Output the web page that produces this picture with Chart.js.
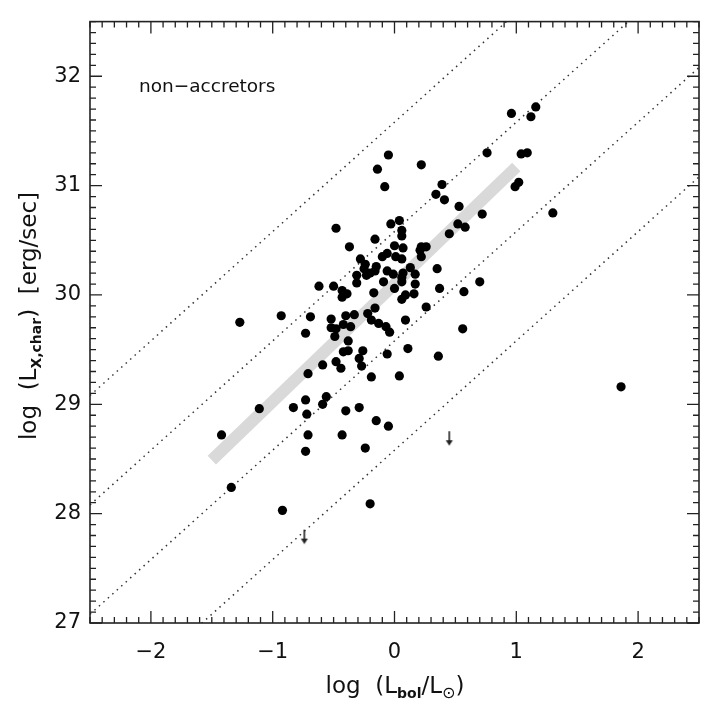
<!DOCTYPE html>
<html lang="en">
<head>
    <meta charset="UTF-8" />
    <script src="https://cdn.jsdelivr.net/npm/chart.js"></script>
    <title>Lx vs Lbol - non-accretors</title>
    <style>
        body { margin: 0; background: #fff; }
        #wrap { width: 712px; height: 707px; }
    </style>
</head>
<body>
    <div id="wrap"><canvas id="grafica" width="712" height="707"></canvas></div>

    <script>
        // log(Lbol/Lsun) and log(Lx,char) of the detected non-accretors
        const lbol = [0.96, 1.16, 1.12, -0.05, -0.14, 0.22, 0.76, 1.04, 1.09, -0.08,
            0.39, 0.34, 0.41, 1.02, 0.99, 0.53, 0.72, 1.30, -0.03, 0.04,
            0.06, 0.06, 0.52, 0.58, 0.45, -0.16, -0.37, 0.00, 0.07, 0.22,
            0.26, 0.21, -0.48, 0.22, -0.28, -0.24, -0.10, -0.06, 0.01, 0.06,
            -0.25, -0.15, -0.16, -0.31, -0.23, -0.20, -0.62, -0.50, -0.31, -0.43,
            -0.39, -0.43, -0.17, -0.16, -0.93, -0.69, -0.52, -0.40, -0.33, -0.22,
            -0.19, -0.13, -1.27, -0.52, -0.48, -0.42, -0.36, -0.73, -0.49, -0.38,
            -0.42, -0.38, -0.26, -0.29, -0.48, -0.44, -0.59, -0.27, -0.71, -0.19,
            -0.73, -0.56, 0.13, 0.35, -0.06, -0.01, 0.07, 0.06, 0.06, 0.17,
            -0.09, 0.17, 0.70, 0.00, 0.37, 0.57, 0.09, 0.06, 0.16, 0.26,
            -0.07, -0.04, 0.09, 0.56, 0.11, -0.06, 0.36, 0.04, -1.11, -1.42,
            -0.83, -0.72, -0.59, -0.40, -0.29, -0.15, -0.05, -0.71, -0.43, -0.73,
            -0.24, -1.34, -0.92, -0.20, 1.86];
        const lx = [31.66, 31.72, 31.63, 31.28, 31.15, 31.19, 31.30, 31.29, 31.30, 30.99,
            31.01, 30.92, 30.87, 31.03, 30.99, 30.81, 30.74, 30.75, 30.65, 30.68,
            30.59, 30.54, 30.65, 30.62, 30.56, 30.51, 30.44, 30.45, 30.43, 30.44,
            30.44, 30.41, 30.61, 30.35, 30.33, 30.28, 30.35, 30.38, 30.35, 30.33,
            30.24, 30.26, 30.22, 30.18, 30.18, 30.20, 30.08, 30.08, 30.11, 30.04,
            30.01, 29.98, 30.02, 29.88, 29.81, 29.80, 29.78, 29.81, 29.82, 29.83,
            29.77, 29.74, 29.75, 29.70, 29.69, 29.73, 29.71, 29.65, 29.62, 29.58,
            29.48, 29.49, 29.49, 29.42, 29.39, 29.33, 29.36, 29.35, 29.28, 29.25,
            29.04, 29.07, 30.25, 30.24, 30.22, 30.19, 30.20, 30.16, 30.12, 30.19,
            30.12, 30.10, 30.12, 30.06, 30.06, 30.03, 30.00, 29.96, 30.01, 29.89,
            29.71, 29.66, 29.77, 29.69, 29.51, 29.46, 29.44, 29.26, 28.96, 28.72,
            28.97, 28.91, 29.00, 28.94, 28.97, 28.85, 28.80, 28.72, 28.72, 28.57,
            28.60, 28.24, 28.03, 28.09, 29.16];

        // upper limits
        const limLbol = [0.45, -0.74];
        const limLx = [28.69, 27.79];

        // constant Lx/Lbol lines, log ratio
        const logLsun = 33.58;
        const ratios = [-2, -3, -4, -5];

        // grey fit line
        const fitLbol = [-1.5, 1.0];
        const fitLx = [28.49, 31.17];

        const xTicks = [-2, -1, 0, 1, 2];
        const yTicks = [27, 28, 29, 30, 31, 32];
        const xRange = [-2.5, 2.5];
        const yRange = [27, 32.5];

        const fuente = '"DejaVu Sans", sans-serif';

        // little down arrow for the upper limits
        function flecha() {
            const c = document.createElement('canvas');
            c.width = 10; c.height = 16;
            const g = c.getContext('2d');
            g.strokeStyle = '#222';
            g.fillStyle = '#222';
            g.lineWidth = 1.6;
            g.beginPath(); g.moveTo(5, 1); g.lineTo(5, 12); g.stroke();
            g.beginPath(); g.moveTo(1.5, 10); g.lineTo(8.5, 10); g.lineTo(5, 15.5); g.closePath(); g.fill();
            return c;
        }

        const puntos = lbol.map((v, i) => ({ x: v, y: lx[i] }));
        const limites = limLbol.map((v, i) => ({ x: v, y: limLx[i] }));

        const lineasRatio = ratios.map(r => ({
            type: 'line',
            data: xRange.map(x => ({ x: x, y: x + logLsun + r })),
            borderColor: '#333',
            borderWidth: 1.5,
            borderDash: [1.5, 4.5],
            pointRadius: 0,
            fill: false
        }));

        // rich text with subscripts
        function textoRico(ctx, partes, x, y) {
            let ancho = 0;
            partes.forEach(p => {
                ctx.font = (p.b ? 'bold ' : '') + p.s + 'px ' + fuente;
                p.w = ctx.measureText(p.t).width;
                ancho += p.w;
            });
            let cx = x - ancho / 2;
            partes.forEach(p => {
                ctx.font = (p.b ? 'bold ' : '') + p.s + 'px ' + fuente;
                ctx.fillText(p.t, cx, y + (p.dy || 0));
                cx += p.w;
            });
        }

        const marco = {
            id: 'marco',
            afterDraw(chart) {
                const { ctx, chartArea: a, scales } = chart;
                const sx = scales.x, sy = scales.y;
                ctx.save();
                ctx.strokeStyle = '#222';
                ctx.lineWidth = 1.6;
                ctx.strokeRect(a.left, a.top, a.right - a.left, a.bottom - a.top);

                ctx.lineWidth = 1.3;
                ctx.beginPath();
                for (let i = -25; i <= 25; i++) {
                    const px = sx.getPixelForValue(i / 10);
                    const len = (i % 10 === 0) ? 12 : 6;
                    ctx.moveTo(px, a.bottom); ctx.lineTo(px, a.bottom - len);
                    ctx.moveTo(px, a.top); ctx.lineTo(px, a.top + len);
                }
                for (let i = 270; i <= 325; i++) {
                    const py = sy.getPixelForValue(i / 10);
                    const len = (i % 10 === 0) ? 12 : 6;
                    ctx.moveTo(a.left, py); ctx.lineTo(a.left + len, py);
                    ctx.moveTo(a.right, py); ctx.lineTo(a.right - len, py);
                }
                ctx.stroke();

                ctx.fillStyle = '#111';
                ctx.textBaseline = 'alphabetic';
                ctx.textAlign = 'left';
                ctx.font = '18.5px ' + fuente;
                ctx.fillText('non\u2212accretors', 139, 92);

                textoRico(ctx, [
                    { t: 'log  (L', s: 23 },
                    { t: 'bol', s: 14, b: true, dy: 5 },
                    { t: '/L', s: 23 },
                    { t: '\u2299', s: 16, dy: 5 },
                    { t: ')', s: 23 }
                ], 395, 693);

                ctx.translate(36, 316);
                ctx.rotate(-Math.PI / 2);
                textoRico(ctx, [
                    { t: 'log  (L', s: 23 },
                    { t: 'X,char', s: 14, b: true, dy: 5 },
                    { t: ')  [erg/sec]', s: 23 }
                ], 0, 0);
                ctx.restore();
            }
        };

        const ctx = document.getElementById('grafica').getContext('2d');
        new Chart(ctx, {
            type: 'scatter',
            data: {
                datasets: [
                    {
                        data: puntos,
                        backgroundColor: '#000',
                        borderWidth: 0,
                        pointRadius: 4.6
                    },
                    {
                        data: limites,
                        pointStyle: flecha(),
                        pointRadius: 8
                    },
                    ...lineasRatio,
                    {
                        type: 'line',
                        data: fitLbol.map((v, i) => ({ x: v, y: fitLx[i] })),
                        borderColor: '#d9d9d9',
                        borderWidth: 12,
                        borderCapStyle: 'butt',
                        pointRadius: 0,
                        fill: false
                    }
                ]
            },
            options: {
                responsive: false,
                animation: false,
                layout: { padding: { top: 15, right: 13, left: 0, bottom: 0 } },
                plugins: {
                    legend: { display: false },
                    tooltip: { enabled: false }
                },
                scales: {
                    x: {
                        type: 'linear',
                        min: xRange[0],
                        max: xRange[1],
                        grid: { display: false, drawTicks: false },
                        border: { display: false },
                        afterBuildTicks: s => { s.ticks = xTicks.map(v => ({ value: v })); },
                        afterFit: s => { s.height = 84; },
                        ticks: {
                            padding: 17,
                            color: '#111',
                            font: { family: fuente, size: 21 },
                            callback: v => String(v).replace('-', '\u2212')
                        }
                    },
                    y: {
                        type: 'linear',
                        min: yRange[0],
                        max: yRange[1],
                        grid: { display: false, drawTicks: false },
                        border: { display: false },
                        afterBuildTicks: s => { s.ticks = yTicks.map(v => ({ value: v })); },
                        afterFit: s => { s.width = 90; },
                        ticks: {
                            padding: 9,
                            color: '#111',
                            font: { family: fuente, size: 21 }
                        }
                    }
                }
            },
            plugins: [marco]
        });
    </script>
</body>
</html>
